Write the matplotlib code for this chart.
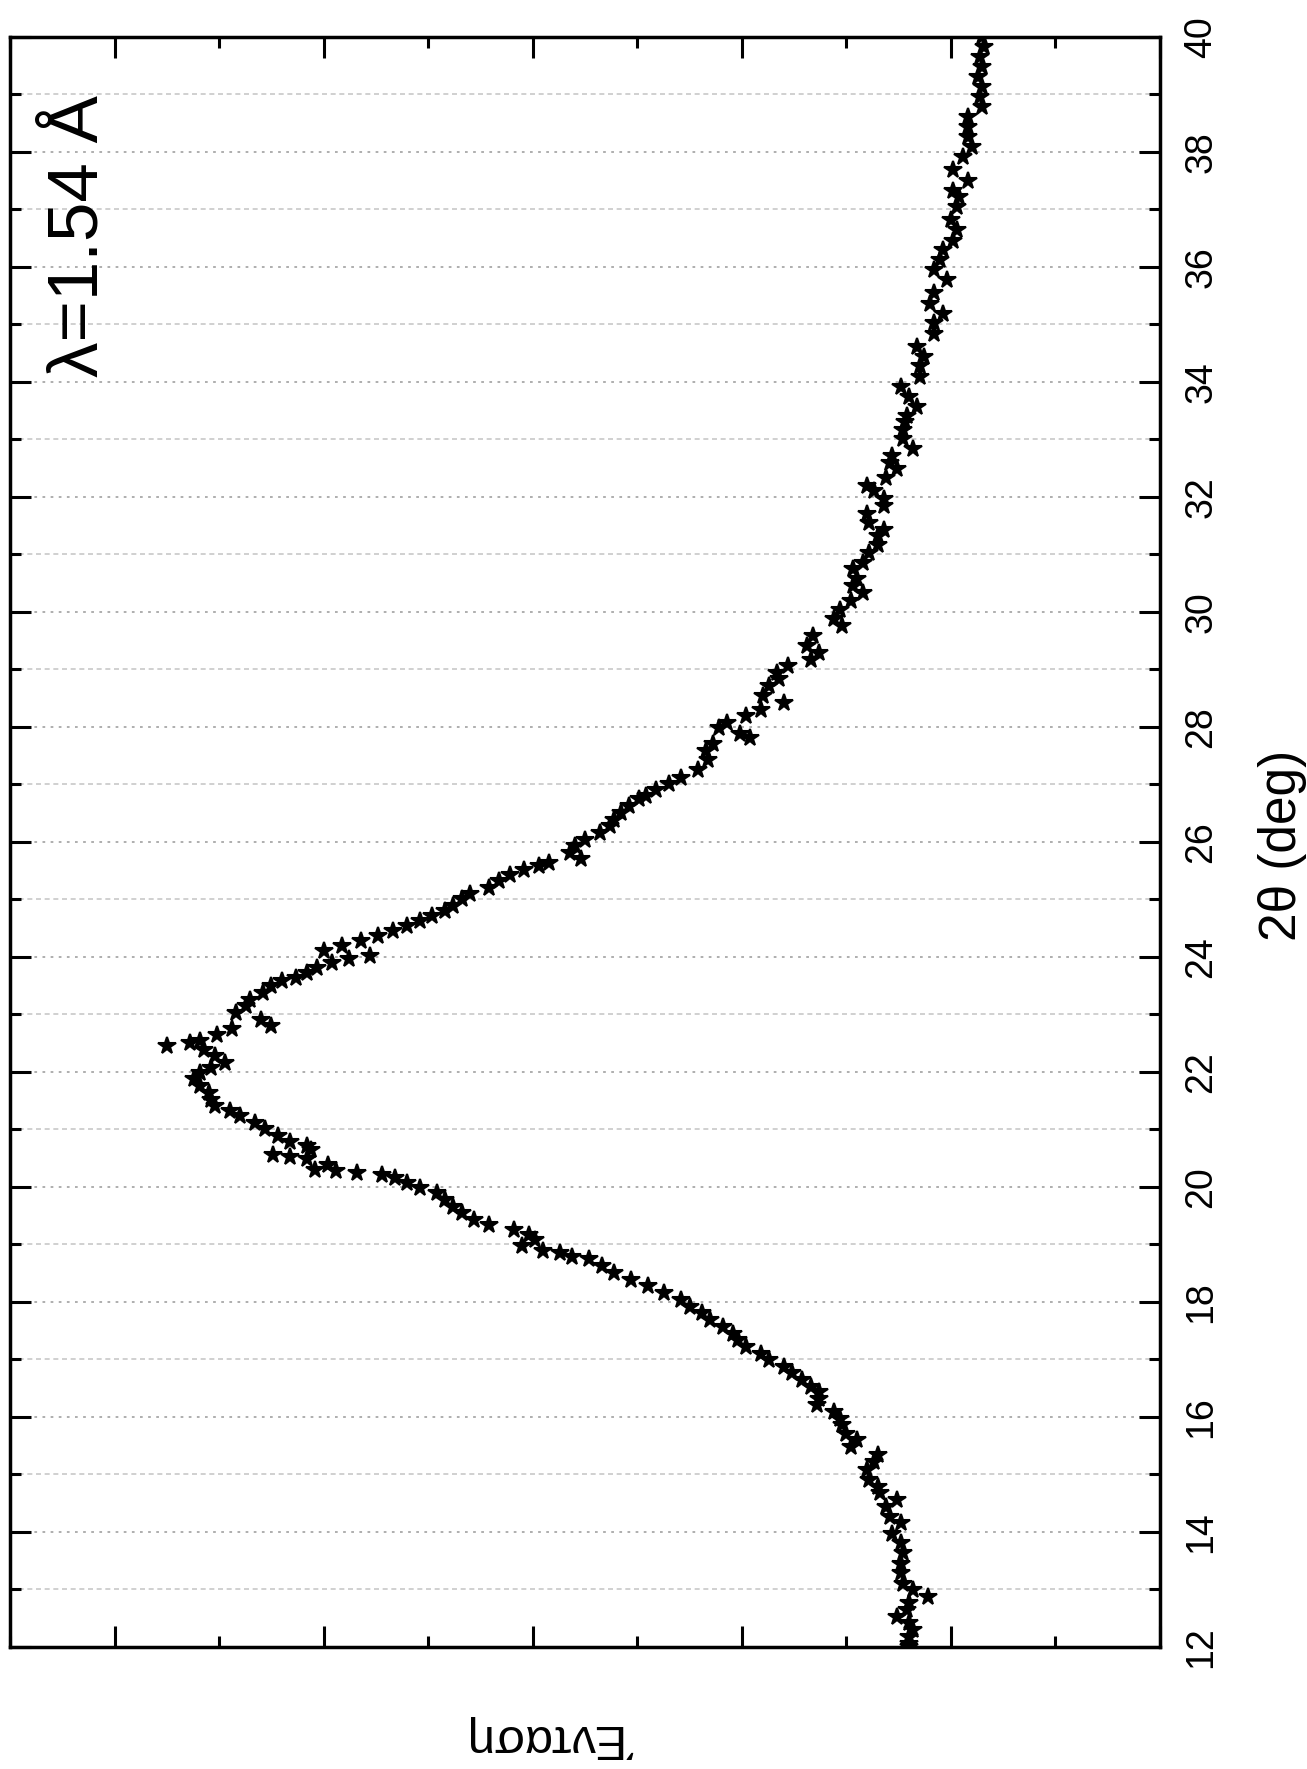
import matplotlib
matplotlib.use('Agg')
import matplotlib.pyplot as plt
from matplotlib.ticker import MultipleLocator, NullFormatter

plt.rcParams['font.family'] = ['Liberation Sans', 'DejaVu Sans']

# 2theta (deg) and intensity (arbitrary units)
two_theta = [
    12.00, 12.06, 12.18, 12.29, 12.41, 12.52, 12.64, 12.76, 12.87, 12.99,
    13.10, 13.28, 13.45, 13.63, 13.80, 13.97, 14.15, 14.26, 14.44, 14.55,
    14.67, 14.79, 14.90, 15.08, 15.22, 15.34, 15.48, 15.60, 15.71, 15.86,
    15.97, 16.09, 16.21, 16.32, 16.44, 16.52, 16.64, 16.76, 16.87, 16.99,
    17.10, 17.22, 17.34, 17.45, 17.57, 17.68,
    17.81, 17.92, 18.04, 18.16, 18.27, 18.39, 18.50, 18.62, 18.74, 18.79,
    18.85, 18.88, 18.97, 19.08, 19.17, 19.26, 19.34, 19.43, 19.55, 19.66,
    19.78, 19.90, 19.98, 20.07, 20.16, 20.21, 20.24, 20.27, 20.30, 20.39,
    20.48, 20.53, 20.56, 20.65, 20.71, 20.79, 20.88, 21.00, 21.11, 21.23,
    21.32, 21.40, 21.52, 21.63, 21.75, 21.87, 21.98, 22.07, 22.16, 22.27,
    22.39,
    22.45, 22.50, 22.54, 22.65, 22.74, 22.80, 22.91, 23.03, 23.14, 23.26,
    23.38, 23.49, 23.58, 23.64, 23.72, 23.81, 23.90, 23.96, 24.01, 24.10,
    24.19, 24.28, 24.36, 24.45, 24.54, 24.62, 24.71, 24.80, 24.88, 25.00,
    25.09, 25.20, 25.32, 25.43, 25.52, 25.58, 25.64, 25.70, 25.81, 25.93,
    26.04, 26.16, 26.28, 26.39, 26.51, 26.62, 26.74, 26.80, 26.91, 27.00,
    27.12, 27.26, 27.43,
    27.58, 27.70, 27.81, 27.87, 27.99, 28.07, 28.19, 28.30, 28.42, 28.54,
    28.71, 28.83, 28.94, 29.06, 29.17, 29.29, 29.41, 29.58, 29.75, 29.87,
    30.04, 30.19, 30.33, 30.45, 30.57, 30.74, 30.86, 31.03, 31.17, 31.32,
    31.43, 31.55, 31.70, 31.84, 31.96, 32.10, 32.19, 32.33, 32.48, 32.59,
    32.71, 32.83, 33.00, 33.17,
    33.30, 33.40, 33.57, 33.74, 33.92, 34.09, 34.27, 34.44, 34.61, 34.84,
    35.02, 35.19, 35.36, 35.54, 35.77, 35.94, 36.12, 36.29, 36.46, 36.64,
    36.81, 37.04, 37.22, 37.33, 37.50, 37.68, 37.91, 38.08, 38.26, 38.43,
    38.60, 38.78, 38.95, 39.13, 39.30, 39.48, 39.65, 39.83, 40.00,
]
intensity = [
    120, 120, 120, 118, 120, 126, 121, 120, 111, 118,
    123, 124, 124, 123, 124, 128, 124, 129, 131, 126,
    134, 135, 139, 140, 137, 135, 148, 145, 150, 152,
    153, 156, 164, 163, 163, 167, 171, 176, 180, 187,
    191, 198, 202, 204, 209, 215,
    219, 225, 229, 237, 245, 253, 261, 267, 273, 281,
    287, 295, 305, 299, 302, 309, 321, 328, 334, 338,
    342, 346, 354, 360, 366, 372, 384, 394, 404, 398,
    408, 416, 424, 406, 408, 416, 422, 428, 433, 440,
    445, 452, 454, 455, 459, 462, 459, 454, 447, 452,
    457,
    475, 464, 459, 451, 444, 425, 430, 442, 437, 435,
    429, 425, 420, 413, 408, 403, 396, 388, 378, 400,
    391, 382, 374, 367, 360, 354, 348, 342, 338, 334,
    330, 321, 316, 311, 304, 297, 292, 277, 282, 280,
    275, 268, 263, 261, 258, 254, 249, 246, 241, 235,
    229, 221, 216,
    217, 214, 196, 201, 211, 207, 198, 191, 180, 190,
    187, 182, 183, 178, 167, 163, 169, 166, 152, 156,
    153, 148, 142, 147, 145, 147, 142, 139, 135, 135,
    132, 139, 140, 132, 132, 137, 140, 131, 126, 129,
    128, 118, 123, 123,
    122, 121, 116, 120, 124, 115, 115, 113, 116, 108,
    108, 104, 110, 108, 102, 108, 105, 104, 99, 97,
    100, 97, 96, 99, 92, 99, 94, 90, 92, 92,
    92, 85, 86, 85, 87, 85, 86, 84, 85,
]
theta_ticks = list(range(12, 41, 2))
wavelength_text = 'λ=1.54 Å'
x_label = '2θ (deg)'
y_label = 'Ένταση'

W, H = 1307, 1769
fig = plt.figure(figsize=(W / 100, H / 100), dpi=100)
ax = fig.add_axes([10 / W, 1 - 1647 / H, 1150 / W, 1610 / H])

ax.plot(intensity, two_theta, linestyle='none', marker='*', markersize=13,
        markeredgewidth=1.5, color='black', markeredgecolor='black', zorder=3)

ax.set_xlim(550, 0)
ax.set_ylim(12, 40)

ax.xaxis.set_major_locator(MultipleLocator(100))
ax.xaxis.set_minor_locator(MultipleLocator(50))
ax.xaxis.set_major_formatter(NullFormatter())

ax.set_yticks(theta_ticks, labels=[str(t) for t in theta_ticks],
              rotation=90, va='center', fontsize=27)
ax.yaxis.set_minor_locator(MultipleLocator(1))

ax.tick_params(which='both', direction='in', top=True, bottom=True,
               left=True, right=True, labelleft=False, labelright=True,
               labelbottom=False, labeltop=False, width=2.2)
ax.tick_params(which='major', length=15)
ax.tick_params(which='minor', length=8)
ax.tick_params(axis='y', pad=17)

for s in ax.spines.values():
    s.set_linewidth(2.5)

ax.set_axisbelow(True)
ax.yaxis.grid(True, which='major', linestyle=(0, (1.5, 3)), color='#a8a8a8', linewidth=1.3)
ax.yaxis.grid(True, which='minor', linestyle=(0, (3, 2.2)), color='#c8c8c8', linewidth=1.2)

fig.text(97 / W, 1 - 377 / H, wavelength_text, rotation=90, rotation_mode='anchor',
         ha='left', va='baseline', fontsize=51)
fig.text(1296 / W, 1 - 845 / H, x_label, rotation=90, rotation_mode='anchor',
         ha='center', va='baseline', fontsize=37)
fig.text(551 / W, 1 - 1725 / H, y_label, rotation=180, rotation_mode='anchor',
         ha='center', va='baseline', fontsize=35)

fig.savefig('out.png', dpi=100)
